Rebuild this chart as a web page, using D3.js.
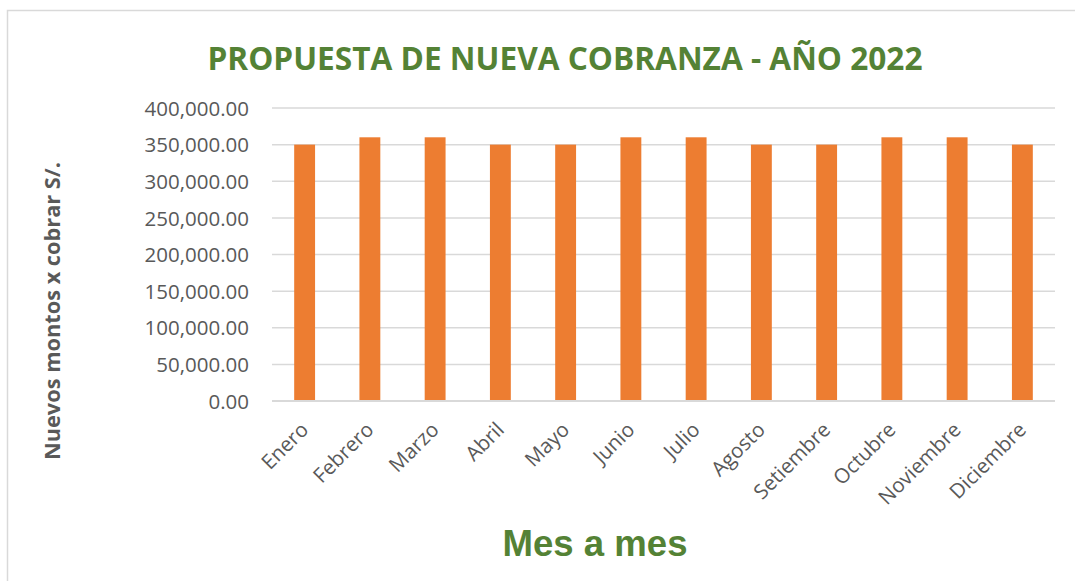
<!DOCTYPE html>
<html>
<head>
<meta charset="utf-8">
<script src="https://cdn.jsdelivr.net/npm/d3@7"></script>
<style>
    html, body { margin: 0; padding: 0; background: #fff; }
    svg { display: block; font-family: "Open Sans", sans-serif; }
    .grid line { stroke: #d9d9d9; stroke-width: 1.5; }
    .tick-label { fill: #595959; }
</style>
</head>
<body>
<svg id="chart" width="1075" height="581"></svg>
<script>
"use strict";

// chart data
const months = ['Enero', 'Febrero', 'Marzo', 'Abril', 'Mayo', 'Junio', 'Julio',
    'Agosto', 'Setiembre', 'Octubre', 'Noviembre', 'Diciembre'];
const amounts = [350000, 360000, 360000, 350000, 350000, 360000, 360000,
    350000, 350000, 360000, 360000, 350000];
const yTicks = [0, 50000, 100000, 150000, 200000, 250000, 300000, 350000, 400000];

const chartTitle = 'PROPUESTA DE NUEVA COBRANZA - AÑO 2022';
const xTitle = 'Mes a mes';
const yTitle = 'Nuevos montos x cobrar S/.';

const GREEN = '#548235';
const ORANGE = '#ed7d31';

const svg = d3.select('#chart');

// outer chart border (only top/left visible in the frame)
svg.append('rect')
    .attr('x', 7.5).attr('y', 10.5)
    .attr('width', 1080).attr('height', 600)
    .attr('fill', 'none')
    .attr('stroke', '#d9d9d9')
    .attr('stroke-width', 1.5);

const plot = { left: 272, right: 1055, top: 108, bottom: 401 };

const x = d3.scaleBand().domain(months).range([plot.left, plot.right]).paddingInner(0.68).paddingOuter(0.34);
const y = d3.scaleLinear().domain([0, 400000]).range([plot.bottom, plot.top]);

/**
 * Shrinks or grows a text element so its width matches the target width.
 */
function fitWidth(sel, target) {
    const size = parseFloat(sel.attr('font-size'));
    const w = sel.node().getComputedTextLength();
    sel.attr('font-size', (size * target / w).toFixed(2));
}

// gridlines
svg.append('g').classed('grid', true)
    .selectAll('line').data(yTicks).join('line')
    .attr('x1', plot.left).attr('x2', plot.right)
    .attr('y1', d => y(d)).attr('y2', d => y(d));

// y axis labels
const fmt = d3.format(',.2f');
const yAxis = d3.axisLeft(y).tickValues(yTicks).tickFormat(fmt).tickSize(0).tickPadding(0);
const yAxisGroup = svg.append('g').attr('transform', 'translate(249,0)').call(yAxis);
yAxisGroup.select('.domain').remove();
yAxisGroup.selectAll('text')
    .classed('tick-label', true)
    .attr('font-family', '"Open Sans", sans-serif')
    .attr('font-size', 20.5)
    .attr('dy', '0.35em');

// bars
svg.append('g').selectAll('rect').data(amounts).join('rect')
    .attr('x', (d, i) => x(months[i]))
    .attr('width', x.bandwidth())
    .attr('y', d => y(d))
    .attr('height', d => y(0) - y(d))
    .attr('fill', ORANGE);

// x axis line on top of bars
svg.append('line')
    .attr('x1', plot.left).attr('x2', plot.right)
    .attr('y1', y(0)).attr('y2', y(0))
    .attr('stroke', '#d9d9d9').attr('stroke-width', 2);

// x axis labels, rotated -45
const xAxis = d3.axisBottom(x).tickSize(0).tickPadding(0);
const xAxisGroup = svg.append('g').attr('transform', `translate(0, ${plot.bottom})`).call(xAxis);
xAxisGroup.select('.domain').remove();
xAxisGroup.selectAll('text')
    .classed('tick-label', true)
    .attr('font-family', '"Open Sans", sans-serif')
    .attr('font-size', 20.5)
    .attr('text-anchor', 'end')
    .attr('dy', null)
    .attr('y', null)
    .attr('transform', 'translate(5, 30) rotate(-45)');

// title
const title = svg.append('text')
    .attr('x', 565).attr('y', 70)
    .attr('text-anchor', 'middle')
    .attr('font-family', '"Open Sans", sans-serif')
    .attr('font-weight', 'bold')
    .attr('font-size', 28)
    .attr('fill', GREEN)
    .text(chartTitle);
fitWidth(title, 715);

// x axis title
const xt = svg.append('text')
    .attr('x', 595).attr('y', 556)
    .attr('text-anchor', 'middle')
    .attr('font-family', '"Liberation Sans", Arial, sans-serif')
    .attr('font-weight', 'bold')
    .attr('font-size', 36)
    .attr('fill', GREEN)
    .text(xTitle);
fitWidth(xt, 185);

// y axis title
const yt = svg.append('text')
    .attr('transform', 'translate(60, 311) rotate(-90)')
    .attr('text-anchor', 'middle')
    .attr('font-family', '"Open Sans", sans-serif')
    .attr('font-weight', 'bold')
    .attr('font-size', 18)
    .attr('fill', '#595959')
    .text(yTitle);
fitWidth(yt, 298);
</script>
</body>
</html>
